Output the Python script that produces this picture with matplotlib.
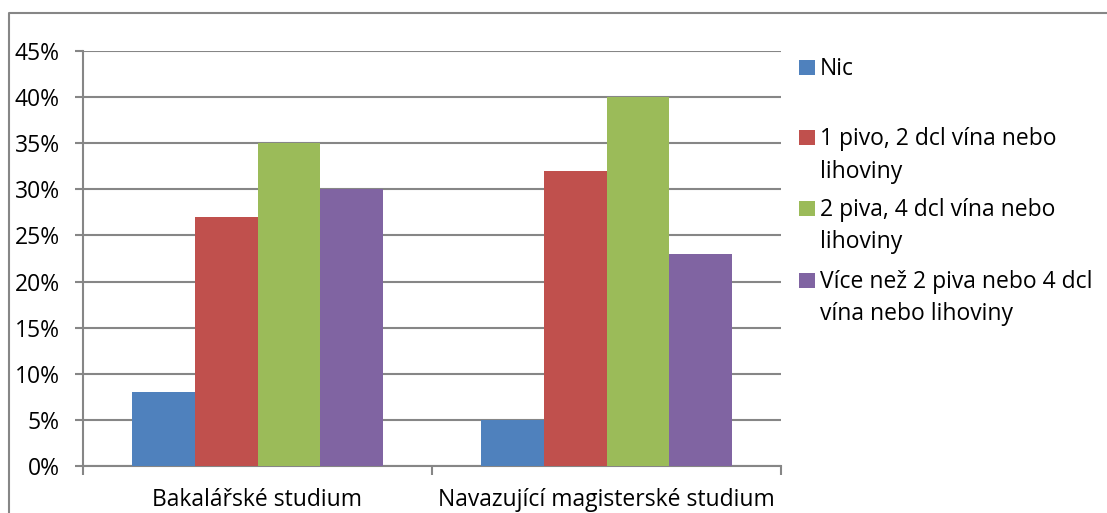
import matplotlib
matplotlib.use("Agg")
import matplotlib.pyplot as plt
from matplotlib.patches import Rectangle
from matplotlib.lines import Line2D
from matplotlib.ticker import FixedLocator, FuncFormatter

# Data (percent of respondents)
categories = ["Bakalářské studium", "Navazující magisterské studium"]
series_names = [
    "Nic",
    "1 pivo, 2 dcl vína nebo\nlihoviny",
    "2 piva, 4 dcl vína nebo\nlihoviny",
    "Více než 2 piva nebo 4 dcl\nvína nebo lihoviny",
]
nic = [8, 5]
jedno_pivo = [27, 32]
dve_piva = [35, 40]
vice_nez_dve = [30, 23]
y_ticks = [0, 5, 10, 15, 20, 25, 30, 35, 40, 45]

series_values = [nic, jedno_pivo, dve_piva, vice_nez_dve]
colors = ["#4F81BD", "#C0504D", "#9BBB59", "#8064A2"]
grey = "#868686"

W, H, DPI = 1107, 513, 100
plt.rcParams["font.family"] = ["Open Sans", "DejaVu Sans"]
FS = 16.5

fig = plt.figure(figsize=(W / DPI, H / DPI), dpi=DPI)
fig.patch.set_facecolor("white")


def fx(px):
    return px / W


def fy(py):
    return 1 - py / H


# Plot area
ax = fig.add_axes([fx(83), fy(466), fx(781) - fx(83), fy(51) - fy(466)])

n = len(series_values)
bar_w = 0.1805
xpos = list(range(len(categories)))
for i, (vals, col) in enumerate(zip(series_values, colors)):
    offs = [x + (i - (n - 1) / 2) * bar_w for x in xpos]
    ax.bar(offs, vals, width=bar_w, color=col, edgecolor="none", zorder=3)

ax.set_xlim(-0.5, len(categories) - 0.5)
ax.set_ylim(0, 45)

ax.yaxis.set_major_locator(FixedLocator(y_ticks))
ax.yaxis.set_major_formatter(FuncFormatter(lambda v, p: f"{v:.0f}%"))
ax.yaxis.grid(True, color=grey, linewidth=1.5, zorder=0)
ax.set_axisbelow(True)

ax.set_xticks(xpos)
ax.set_xticklabels(categories)
ax.set_xticks([x - 0.5 for x in range(len(categories) + 1)], minor=True)

ax.tick_params(axis="y", which="major", length=5.8, width=1.5, color=grey,
               direction="out", pad=11, labelsize=FS, labelcolor="black")
ax.tick_params(axis="x", which="major", length=0, pad=16,
               labelsize=FS, labelcolor="black")
ax.tick_params(axis="x", which="minor", length=6.5, width=1.5, color=grey,
               direction="out")

for side in ("top", "right"):
    ax.spines[side].set_visible(False)
for side in ("left", "bottom"):
    ax.spines[side].set_color(grey)
    ax.spines[side].set_linewidth(1.5)

# Legend drawn beside the plot area
first_baselines = [75, 145, 216, 288]
line_step = 32.5
for name, col, base in zip(series_names, colors, first_baselines):
    fig.patches.append(Rectangle((fx(799), fy(base)), fx(815) - fx(799),
                                 fy(base - 15) - fy(base),
                                 transform=fig.transFigure,
                                 facecolor=col, edgecolor="none"))
    for k, line in enumerate(name.split("\n")):
        fig.text(fx(820), fy(base + k * line_step), line, fontsize=FS,
                 ha="left", va="baseline", color="black")

# Chart frame
fig.add_artist(Line2D([fx(9), fx(9), fx(W + 5)], [fy(H + 5), fy(13), fy(13)],
                      transform=fig.transFigure, color=grey, linewidth=1.5))

fig.savefig("out.png", dpi=DPI)
